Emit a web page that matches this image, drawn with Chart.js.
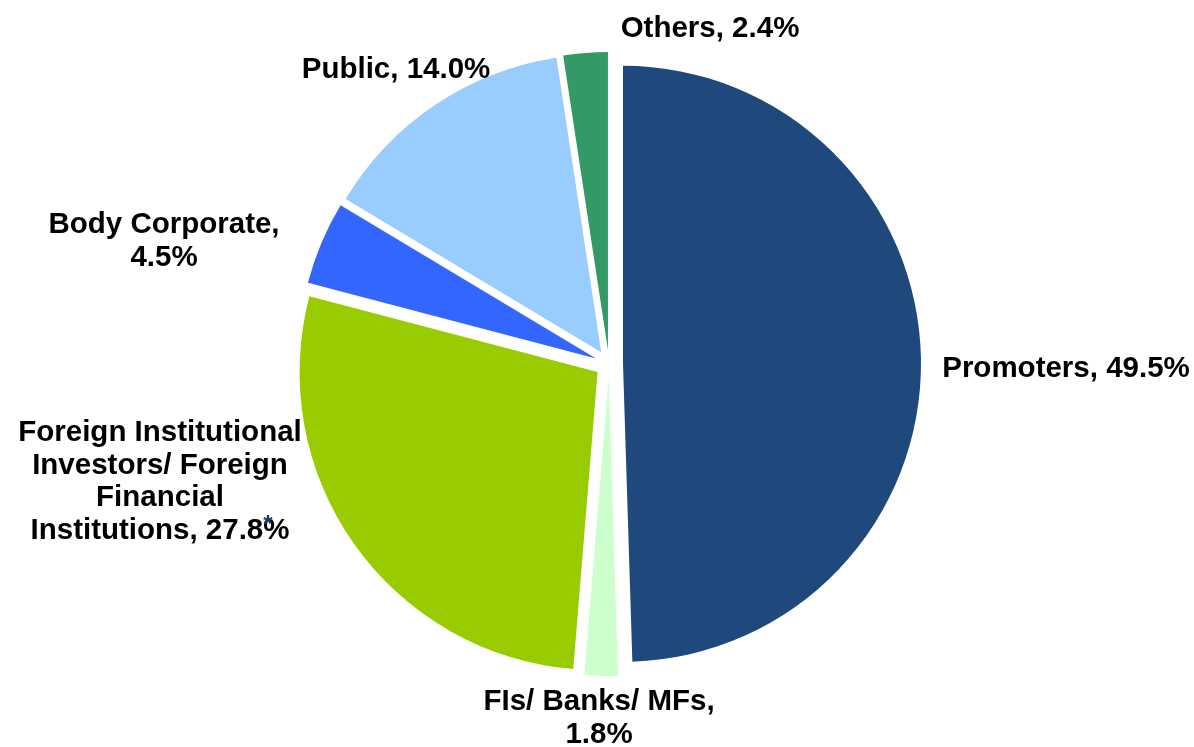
<!DOCTYPE html>
<html>
<head>
<meta charset="utf-8">
<script src="https://cdn.jsdelivr.net/npm/chart.js@4"></script>
<style>
  html, body { margin: 0; padding: 0; background: #fff; }
  #wrap { width: 1194px; height: 747px; }
</style>
</head>
<body>
<div id="wrap"><canvas id="myChart" width="1194" height="747"></canvas></div>
<script>
// shareholding pattern
const holders = ['Promoters', 'FIs/ Banks/ MFs', 'Foreign Institutional Investors/ Foreign Financial Institutions', 'Body Corporate', 'Public', 'Others'];
const shares = [49.5, 1.8, 27.8, 4.5, 14.0, 2.4];
const colors = ['#1F497D', '#CCFFCC', '#99CC00', '#3366FF', '#99CCFF', '#339966'];

// label lines per slice, last line gets the value
const labelLines = [
  ['Promoters, '],
  ['FIs/ Banks/ MFs,', ''],
  ['Foreign Institutional', 'Investors/ Foreign', 'Financial', 'Institutions, '],
  ['Body Corporate,', ''],
  ['Public, '],
  ['Others, ']
];
// where each label block sits, relative to the pie centre (dx = block centre, dy = first baseline)
const labelSpots = [
  {dx: 457, dy: 13},
  {dx: -10, dy: 346},
  {dx: -449, dy: 77},
  {dx: -445, dy: -131},
  {dx: -213, dy: -286},
  {dx: 101, dy: -327}
];

const explode = 14; // px each slice is pulled out along its middle

// draw every slice pushed out from the centre
const explodedSlices = {
  id: 'explodedSlices',
  beforeDatasetsDraw(chart) {
    const ctx = chart.ctx;
    chart.getDatasetMeta(0).data.forEach(arc => {
      const mid = (arc.startAngle + arc.endAngle) / 2;
      ctx.save();
      ctx.translate(Math.cos(mid) * explode, Math.sin(mid) * explode);
      arc.draw(ctx);
      ctx.restore();
    });
    return false;
  }
};

const pieLabels = {
  id: 'pieLabels',
  afterDraw(chart) {
    const ctx = chart.ctx;
    const arc0 = chart.getDatasetMeta(0).data[0];
    const cx = arc0.x, cy = arc0.y;
    ctx.save();
    ctx.fillStyle = '#000';
    ctx.font = 'bold 29.5px "Liberation Sans", Arial, sans-serif';
    ctx.textAlign = 'center';
    ctx.textBaseline = 'alphabetic';
    labelLines.forEach((lines, i) => {
      const spot = labelSpots[i];
      lines.forEach((ln, j) => {
        let txt = ln;
        if (j === lines.length - 1) txt += shares[i].toFixed(1) + '%';
        ctx.fillText(txt, cx + spot.dx, cy + spot.dy + j * 32.5);
      });
    });
    // stray footnote mark next to the FII value
    ctx.font = 'bold 24px "Liberation Sans", Arial, sans-serif';
    ctx.fillStyle = '#1F3864';
    ctx.fillText('*', cx - 341, cy + 168);
    ctx.restore();
  }
};

const ctx = document.getElementById('myChart');
new Chart(ctx, {
  type: 'pie',
  data: {
    labels: holders,
    datasets: [{
      data: shares,
      backgroundColor: colors,
      borderWidth: 0,
      hoverOffset: 0
    }]
  },
  options: {
    responsive: false,
    animation: false,
    events: [],
    layout: { padding: { left: 201, right: 177, top: 66, bottom: 85 } },
    plugins: {
      legend: { display: false },
      tooltip: { enabled: false }
    }
  },
  plugins: [explodedSlices, pieLabels]
});
</script>
</body>
</html>
